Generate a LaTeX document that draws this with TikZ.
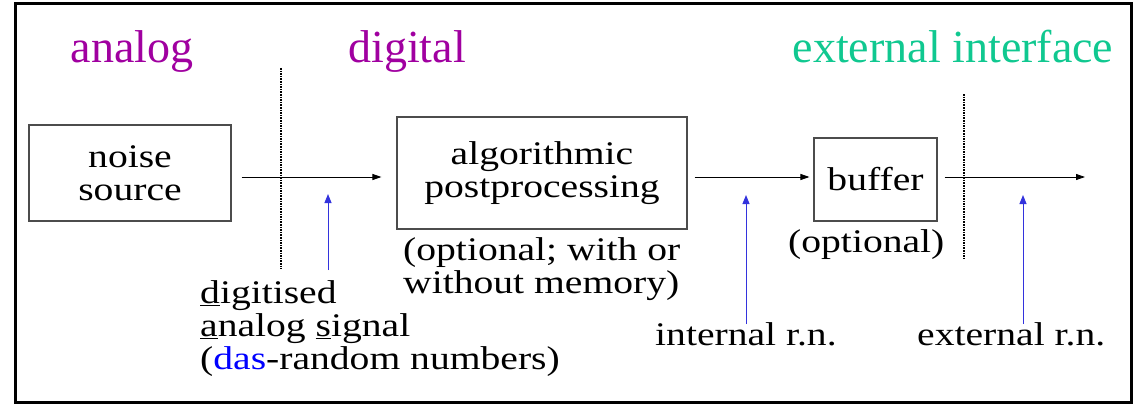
\documentclass[tikz,border=0pt]{standalone}
\usepackage{fontspec}
\setmainfont{Liberation Serif}
\newfontfamily\bodyf{Liberation Serif}[FakeStretch=1.2]
\usetikzlibrary{arrows.meta,calc}
\definecolor{zonepurple}{RGB}{160,0,160}
\definecolor{zonegreen}{RGB}{16,200,144}
\definecolor{probeblue}{RGB}{51,51,221}
\definecolor{dasblue}{RGB}{0,0,255}
\tikzset{
  block/.style={draw=black!70, line width=1.1pt, inner sep=0pt, align=center,
    font=\bodyf\fontsize{33}{33}\selectfont},
  zone/.style={inner sep=0pt, anchor=base, font=\fontsize{46}{46}\selectfont},
  label/.style={inner sep=0pt, anchor=base west, align=left,
    font=\bodyf\fontsize{33}{33}\selectfont},
  flow/.style={draw=black, line width=0.9pt, -{Triangle[length=9pt,width=6pt]}},
  probe/.style={draw=probeblue, line width=1pt, -{Triangle[length=9pt,width=7pt]}},
  divider/.style={draw=black, line width=1.6pt, densely dotted},
}
\begin{document}
\begin{tikzpicture}[x=1pt,y=-1pt]
\useasboundingbox (0,0) rectangle (1135,404);
% outer frame
\draw[line width=3pt] (15,4) rectangle (1131,402);

% zone titles
\node[zone, text=zonepurple] (tanalog) at (132,63) {analog};
\node[zone, text=zonepurple] (tdigital) at (407,63) {digital};
\node[zone, text=zonegreen] (texternal) at (953,63) {external interface};

% domain boundaries
\coordinate (d1top) at (281,68);
\coordinate (d1bot) at (281,269);
\coordinate (d2top) at (964,94);
\coordinate (d2bot) at (964,258);
\draw[divider] (d1top) -- (d1bot);
\draw[divider] (d2top) -- (d2bot);

% processing blocks
\node[block, minimum width=202pt, minimum height=96pt] (noise) at (130,173) {noise\\source};
\node[block, minimum width=290pt, minimum height=112pt] (algo) at (542,173) {algorithmic\\postprocessing};
\node[block, minimum width=123pt, minimum height=83pt] (buffer) at (875.5,179.5) {buffer};

% signal path
\coordinate (lvl) at (0,177);
\coordinate (out) at (1085,177);
\draw[flow, shorten <=10pt, shorten >=15pt] (noise.east |- lvl) -- (algo.west |- lvl);
\draw[flow, shorten <=7pt, shorten >=4pt] (algo.east |- lvl) -- (buffer.west |- lvl);
\draw[flow, shorten <=7pt] (buffer.east |- lvl) -- (out);

% annotations (multi-line labels sit on their last baseline)
\node[label] (algonote) at (403,293) {(optional; with or\\without memory)};
\node[label] (bufnote) at (788,252) {(optional)};
\node[label] (dasl) at (200,369) {\underline{d}igitised\\\underline{a}nalog \underline{s}ignal\\(\textcolor{dasblue}{das}-random numbers)};
\node[label] (intl) at (655,345) {internal r.n.};
\node[label] (extl) at (917,345) {external r.n.};

% probe points
\coordinate (p1a) at (328,270);
\coordinate (p1b) at (328,194);
\coordinate (p2a) at (746,324);
\coordinate (p2b) at (746,195);
\coordinate (p3a) at (1023,324);
\coordinate (p3b) at (1023,195);
\draw[probe] (p1a) -- (p1b);
\draw[probe] (p2a) -- (p2b);
\draw[probe] (p3a) -- (p3b);
\end{tikzpicture}
\end{document}
